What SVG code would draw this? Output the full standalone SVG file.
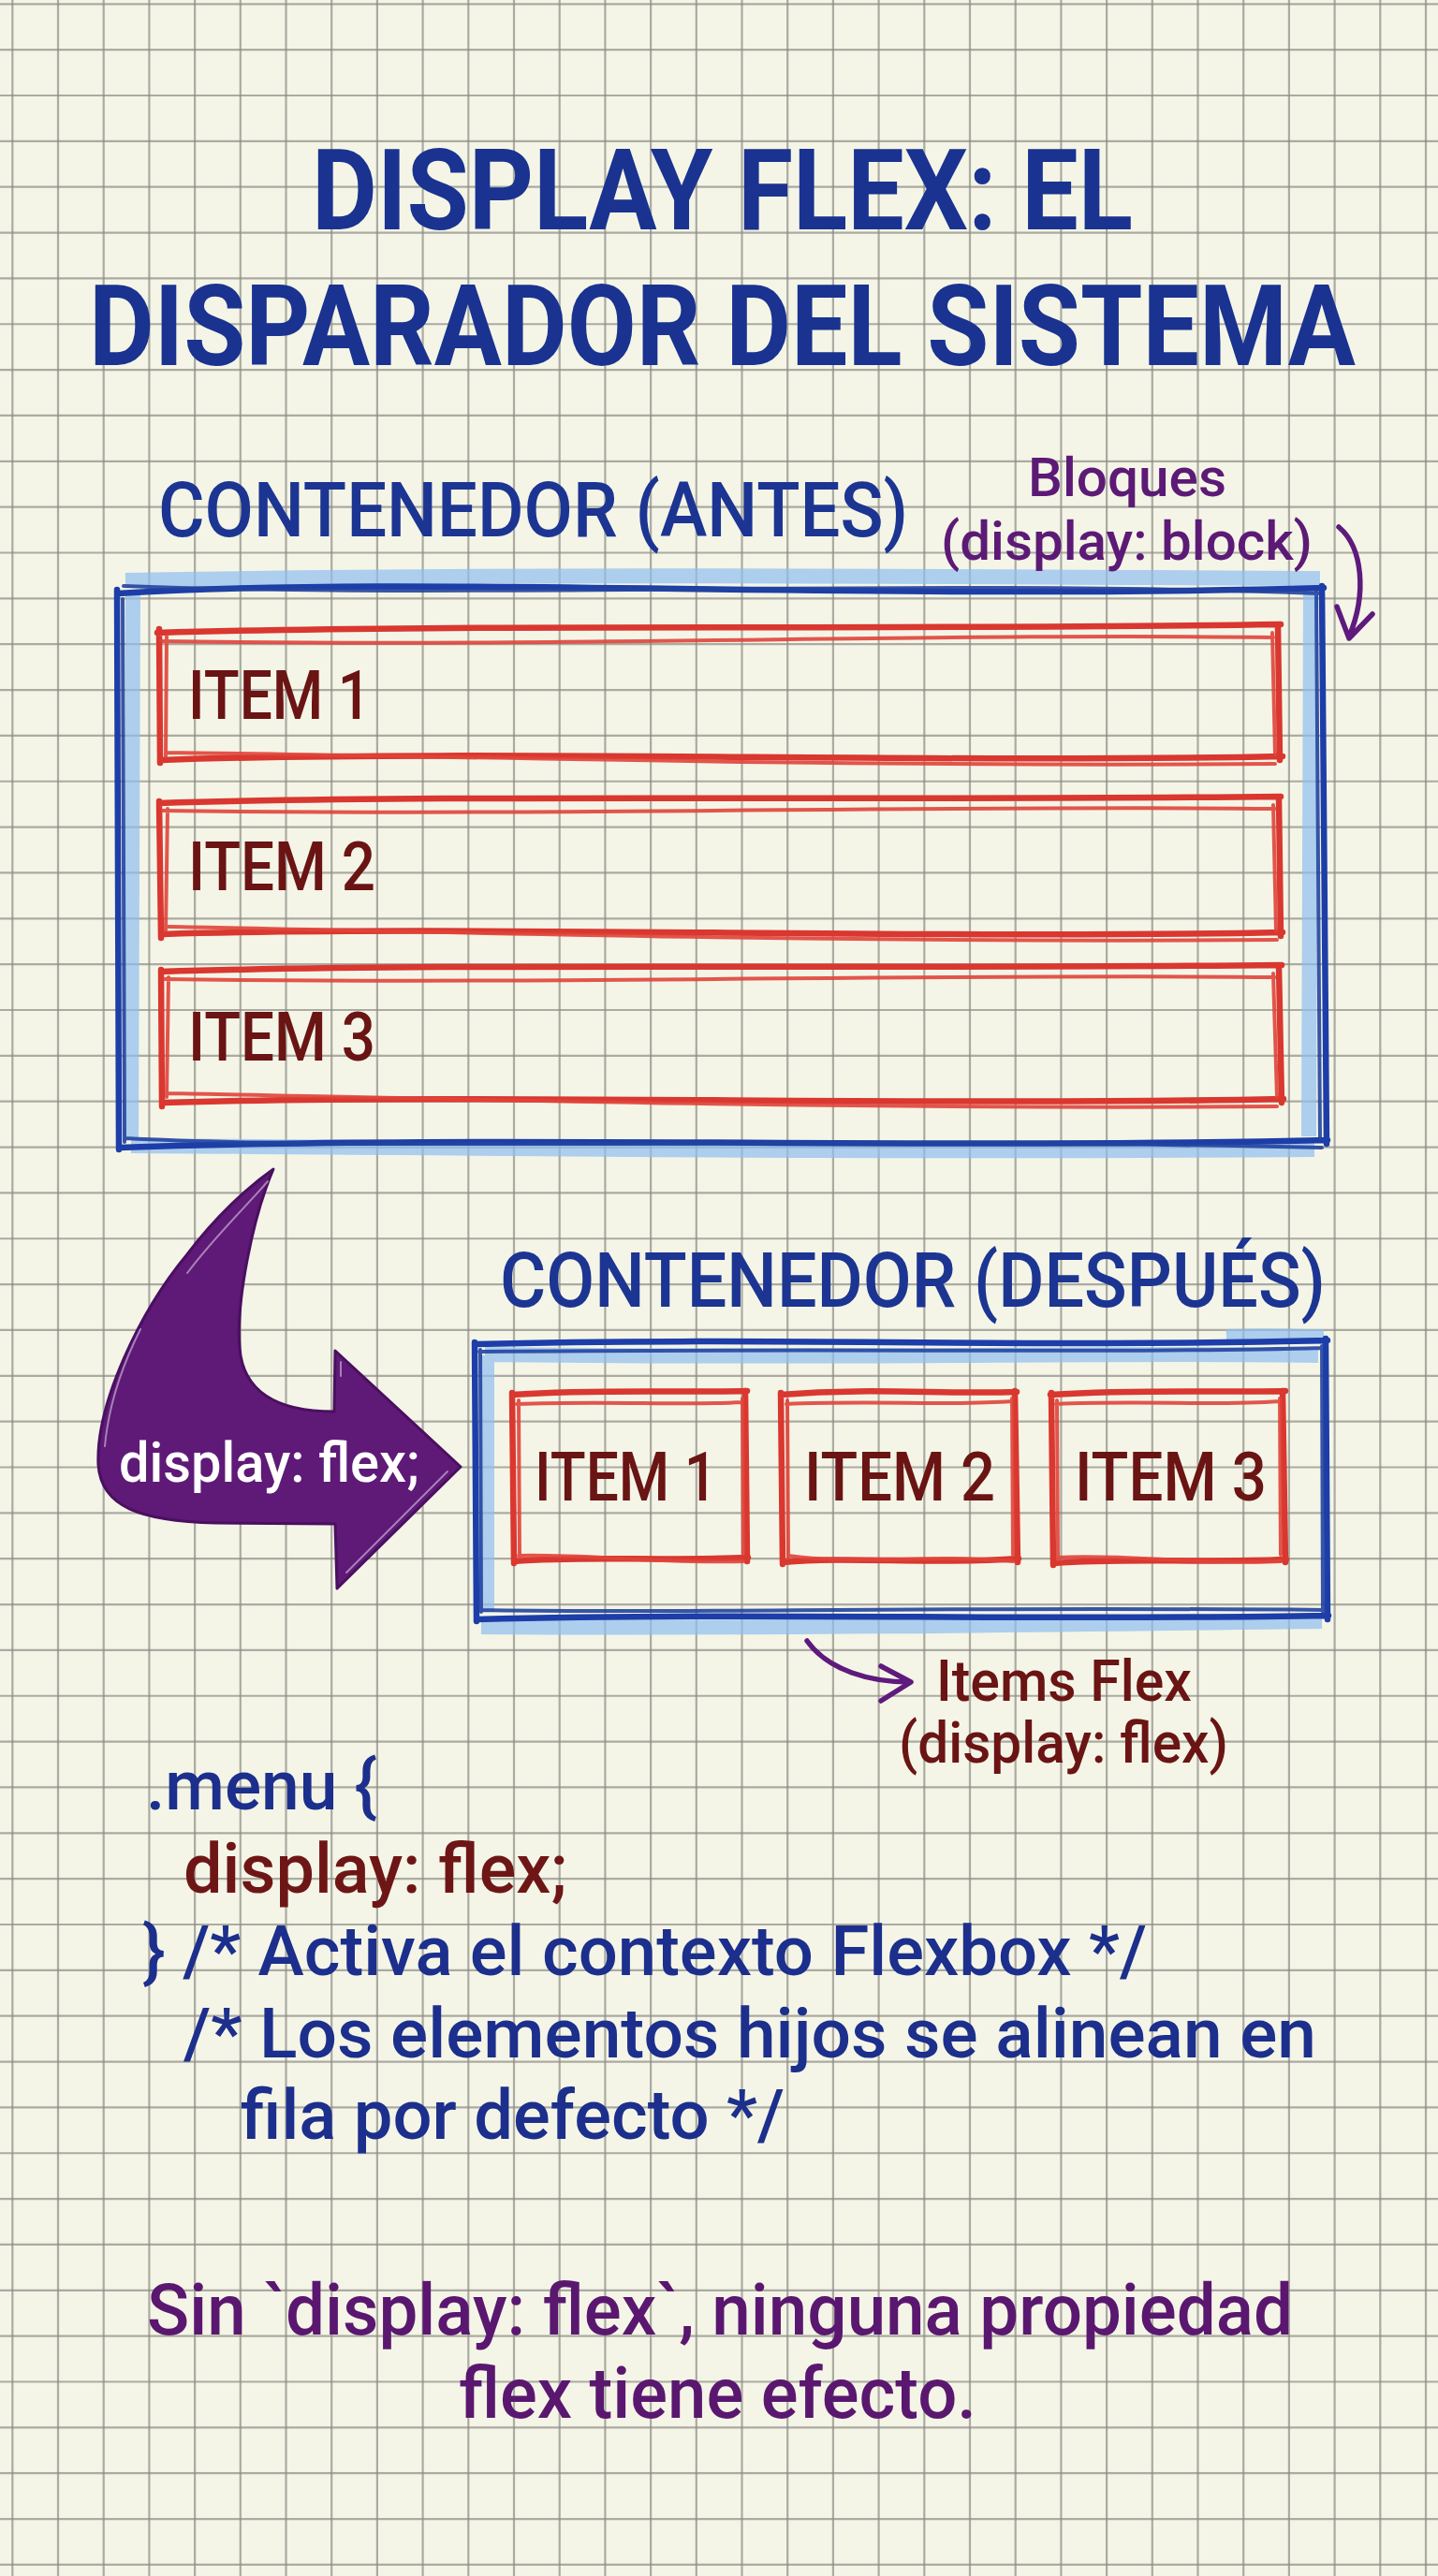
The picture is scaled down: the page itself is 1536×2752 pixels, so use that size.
<svg xmlns="http://www.w3.org/2000/svg" width="1536" height="2752" viewBox="0 0 1536 2752">
<defs>
<style>
.grid{fill:none;stroke:#8c8c84;stroke-width:2.2;opacity:.7}
.t{font-family:Roboto,"Liberation Sans",sans-serif}
.title{font-weight:700;font-size:120px;fill:#1a3290}
.lbl{font-size:82px;fill:#1c3592;font-weight:500}
.item{font-size:72px;fill:#6a1414;font-weight:500}
.note{font-size:58px;fill:#5c1a76;font-weight:500}
.note2{font-size:62px;fill:#6a1414;font-weight:500}
.code{font-size:74px;fill:#1c2f8c;font-weight:500}
.codered{font-size:74px;fill:#6e1616;font-weight:500}
.sin{font-size:76px;fill:#5a176f;font-weight:500}
.hl{fill:none;stroke:#8fbdf0;stroke-width:16;opacity:.7;stroke-linejoin:round}
.bl{fill:none;stroke:#1d3ea8;stroke-width:6.5;stroke-linecap:round}
.bl2{fill:none;stroke:#22449f;stroke-width:4;stroke-linecap:round;opacity:.9}
.rd{fill:none;stroke:#d9372f;stroke-width:6.5;stroke-linecap:round}
.rd2{fill:none;stroke:#e0443a;stroke-width:4;stroke-linecap:round;opacity:.9}
.pa{fill:none;stroke:#5e1a7c;stroke-width:5.5;stroke-linecap:round;stroke-linejoin:round}
</style>
</defs>
<rect width="1536" height="2752" fill="#f4f5e7"/>
<g id="grid">
<path class="grid" d="M13.3 0V2752M62 0V2752M110.7 0V2752M159.4 0V2752M208.1 0V2752M256.8 0V2752M305.5 0V2752M354.2 0V2752M402.9 0V2752M451.6 0V2752M500.3 0V2752M549 0V2752M597.7 0V2752M646.4 0V2752M695.1 0V2752M743.8 0V2752M792.5 0V2752M841.2 0V2752M889.9 0V2752M938.6 0V2752M987.3 0V2752M1036 0V2752M1084.7 0V2752M1133.4 0V2752M1182.1 0V2752M1230.8 0V2752M1279.5 0V2752M1328.2 0V2752M1376.9 0V2752M1425.6 0V2752M1474.3 0V2752M1523 0V2752"/>
<path class="grid" d="M0 4.3H1536M0 53.15H1536M0 102H1536M0 150.85H1536M0 199.7H1536M0 248.55H1536M0 297.4H1536M0 346.25H1536M0 395.1H1536M0 443.95H1536M0 492.8H1536M0 541.65H1536M0 590.5H1536M0 639.35H1536M0 688.2H1536M0 737.05H1536M0 785.9H1536M0 834.75H1536M0 883.6H1536M0 932.45H1536M0 981.3H1536M0 1030.15H1536M0 1079H1536M0 1127.85H1536M0 1176.7H1536M0 1225.55H1536M0 1274.4H1536M0 1323.25H1536M0 1372.1H1536M0 1420.95H1536M0 1469.8H1536M0 1518.65H1536M0 1567.5H1536M0 1616.35H1536M0 1665.2H1536M0 1714.05H1536M0 1762.9H1536M0 1811.75H1536M0 1860.6H1536M0 1909.45H1536M0 1958.3H1536M0 2007.15H1536M0 2056H1536M0 2104.85H1536M0 2153.7H1536M0 2202.55H1536M0 2251.4H1536M0 2300.25H1536M0 2349.1H1536M0 2397.95H1536M0 2446.8H1536M0 2495.65H1536M0 2544.5H1536M0 2593.35H1536M0 2642.2H1536M0 2691.05H1536M0 2739.9H1536"/>
</g>
<g id="title">
<text class="t title" x="333" y="245" textLength="877" lengthAdjust="spacingAndGlyphs">DISPLAY FLEX: EL</text>
<text class="t title" x="95" y="390" textLength="1353" lengthAdjust="spacingAndGlyphs">DISPARADOR DEL SISTEMA</text>
</g>
<g id="node-contenedor-antes">
<text class="t lbl" x="169" y="573" textLength="801" lengthAdjust="spacingAndGlyphs">CONTENEDOR (ANTES)</text>
<path class="hl" d="M134,620 C600,612 1000,616 1410,618 M1400,628 L1398,1214 M1404,1228 C900,1232 500,1226 140,1224 M140,1218 L142,634"/>
<path class="bl" d="M126,634 C450,614 900,642 1414,628 M1412,626 L1417,1222 M1418,1218 C1000,1228 500,1212 128,1226 M127,1228 L125,630"/>
<path class="bl2" d="M132,626 C500,640 1000,618 1408,634 M1406,632 L1410,1216 M1412,1226 C900,1214 400,1230 134,1216 M133,1220 L131,640"/>
</g>
<g id="node-antes-item1">
<path class="rd" d="M168,676 C500,666 900,674 1368,667 M1365,668 L1367,812 M1370,808 C1000,816 500,800 172,812 M171,815 L170,672"/>
<path class="rd2" d="M172,685 C600,692 1000,676 1360,681 M1359,676 L1362,806 M1362,816 C900,820 400,806 178,804 M177,808 L178,680"/>
<text class="t item" x="201" y="768" textLength="195" lengthAdjust="spacingAndGlyphs">ITEM 1</text>
</g>
<g id="node-antes-item2">
<path class="rd" d="M170,858 C500,848 900,856 1368,851 M1366,852 L1368,1000 M1370,996 C1000,1004 500,988 174,998 M172,1002 L170,856"/>
<path class="rd2" d="M174,866 C600,872 1000,860 1362,864 M1360,860 L1363,994 M1364,1004 C900,1008 400,994 180,990 M177,994 L179,864"/>
<text class="t item" x="201" y="951" textLength="200" lengthAdjust="spacingAndGlyphs">ITEM 2</text>
</g>
<g id="node-antes-item3">
<path class="rd" d="M172,1038 C500,1028 900,1036 1369,1031 M1366,1032 L1369,1178 M1371,1174 C1000,1182 500,1168 174,1178 M173,1182 L172,1036"/>
<path class="rd2" d="M176,1046 C600,1052 1000,1040 1362,1044 M1360,1040 L1364,1172 M1364,1182 C900,1186 400,1172 180,1168 M178,1172 L180,1044"/>
<text class="t item" x="201" y="1133" textLength="200" lengthAdjust="spacingAndGlyphs">ITEM 3</text>
</g>
<g id="node-bloques-note">
<text class="t note" x="1098" y="530" textLength="212" lengthAdjust="spacingAndGlyphs">Bloques</text>
<text class="t note" x="1005" y="598" textLength="397" lengthAdjust="spacingAndGlyphs">(display: block)</text>
</g>
<g id="node-flex-arrow">
<path d="M292,1249 C270,1300 252,1390 256,1440 C260,1490 300,1508 357,1508 L358,1443 L492,1567 L360,1697 L358,1628 L230,1627 C150,1625 108,1610 105,1565 C102,1500 150,1400 200,1340 C230,1300 265,1268 292,1249 Z" fill="#5e1a76" stroke="#4a0f60" stroke-width="3" stroke-linejoin="round"/>
<path d="M286,1262 C262,1290 230,1320 200,1360 M112,1545 C116,1500 130,1460 150,1420 M364,1455 L364,1470 M370,1680 L478,1572" fill="none" stroke="#d9c6e6" stroke-width="2" opacity=".6" stroke-linecap="round"/>
<text class="t" x="127" y="1583" font-size="60" font-weight="500" fill="#ffffff" textLength="321" lengthAdjust="spacingAndGlyphs">display: flex;</text>
</g>
<g id="node-contenedor-despues">
<text class="t lbl" x="534" y="1396" textLength="882" lengthAdjust="spacingAndGlyphs">CONTENEDOR (DESPUÉS)</text>
<path class="hl" d="M1310,1428 C1350,1426 1390,1428 1414,1428 M518,1447 C900,1452 1200,1444 1408,1448 M520,1448 L520,1722 M514,1738 C800,1740 1100,1736 1412,1732"/>
<path class="bl" d="M508,1436 C800,1428 1100,1440 1418,1432 M1416,1430 L1418,1730 M1419,1726 C1100,1732 800,1722 510,1730 M509,1732 L507,1434"/>
<path class="bl2" d="M512,1444 C900,1440 1200,1446 1412,1440 M1412,1438 L1413,1722 M1414,1720 C1000,1716 700,1724 514,1720 M514,1722 L513,1442"/>
</g>
<g id="node-despues-item1">
<path class="rd" d="M547,1490 C640,1484 720,1488 798,1486 M796,1486 L798,1668 M799,1664 C700,1668 620,1662 549,1668 M549,1670 L547,1488"/>
<path class="rd2" d="M552,1500 C650,1496 730,1502 792,1498 M793,1494 L794,1660 M794,1668 C700,1670 620,1660 554,1662 M555,1664 L554,1496"/>
<text class="t item" x="571" y="1603" textLength="195" lengthAdjust="spacingAndGlyphs">ITEM 1</text>
</g>
<g id="node-despues-item2">
<path class="rd" d="M834,1490 C930,1482 1010,1490 1086,1487 M1084,1486 L1087,1669 M1088,1665 C990,1672 910,1662 836,1669 M836,1671 L834,1488"/>
<path class="rd2" d="M840,1500 C930,1496 1020,1502 1080,1497 M1081,1494 L1082,1661 M1082,1668 C990,1660 910,1672 842,1662 M842,1664 L841,1496"/>
<text class="t item" x="859" y="1603" textLength="204" lengthAdjust="spacingAndGlyphs">ITEM 2</text>
</g>
<g id="node-despues-item3">
<path class="rd" d="M1122,1490 C1220,1484 1300,1488 1373,1486 M1370,1486 L1373,1669 M1374,1666 C1280,1670 1200,1664 1126,1670 M1125,1672 L1123,1488"/>
<path class="rd2" d="M1128,1500 C1220,1496 1300,1502 1366,1497 M1367,1494 L1368,1661 M1368,1668 C1280,1672 1200,1660 1130,1664 M1130,1666 L1129,1496"/>
<text class="t item" x="1148" y="1603" textLength="205" lengthAdjust="spacingAndGlyphs">ITEM 3</text>
</g>
<g id="node-items-flex-note">
<text class="t note2" x="1000" y="1817" textLength="273" lengthAdjust="spacingAndGlyphs">Items Flex</text>
<text class="t note2" x="960" y="1883" textLength="352" lengthAdjust="spacingAndGlyphs">(display: flex)</text>
</g>
<g id="connectors">
<path class="pa" d="M1430,563 C1456,585 1460,635 1441,680 M1428,648 L1441,682 L1466,656"/>
<path class="pa" d="M862,1753 C885,1785 930,1797 972,1797 M941,1780 L973,1797 L941,1817"/>
</g>
<g id="code">
<text class="t code" x="156" y="1933" textLength="247" lengthAdjust="spacingAndGlyphs">.menu {</text>
<text class="t codered" x="196" y="2022" textLength="410" lengthAdjust="spacingAndGlyphs">display: flex;</text>
<text class="t code" x="152" y="2110" textLength="1073" lengthAdjust="spacingAndGlyphs">} /* Activa el contexto Flexbox */</text>
<text class="t code" x="196" y="2198" textLength="1210" lengthAdjust="spacingAndGlyphs">/* Los elementos hijos se alinean en</text>
<text class="t code" x="257" y="2285" textLength="581" lengthAdjust="spacingAndGlyphs">fila por defecto */</text>
</g>
<g id="note-final">
<text class="t sin" x="157" y="2494" textLength="1224" lengthAdjust="spacingAndGlyphs">Sin `display: flex`, ninguna propiedad</text>
<text class="t sin" x="490" y="2583" textLength="553" lengthAdjust="spacingAndGlyphs">flex tiene efecto.</text>
</g>
</svg>
